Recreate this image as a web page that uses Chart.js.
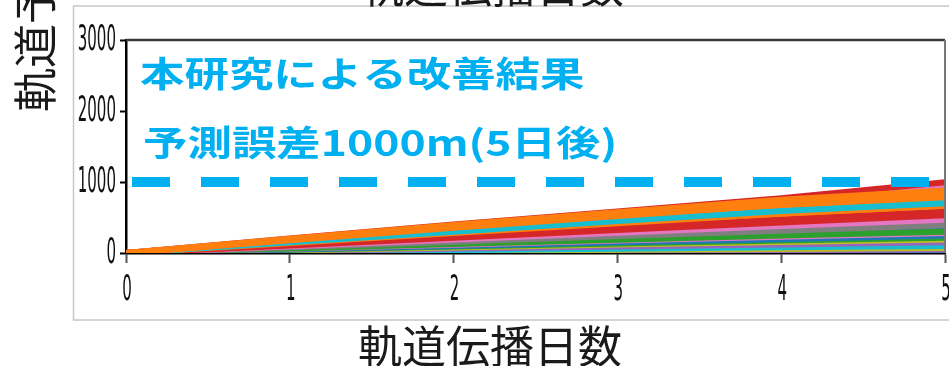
<!DOCTYPE html>
<html>
<head>
<meta charset="utf-8">
<script src="https://cdn.jsdelivr.net/npm/chart.js@4/dist/chart.umd.min.js"></script>
<style>
  body { margin: 0; background: #fff; }
  canvas { display: block; }
</style>
</head>
<body>
<canvas id="errChart" width="949" height="366"></canvas>
<script>
// 伝播日数 (x) と各衛星の軌道予測誤差 [m] (y)
const days = [0, 1, 2, 3, 4, 5];
const xTicks = [0, 1, 2, 3, 4, 5];
const yTicks = [0, 1000, 2000, 3000];
const targetError = 1000;

// 先頭ほど手前に描かれる
const lineValues = [
  [0, 200, 395, 575, 750, 880],
  [0, 190, 375, 550, 715, 845],
  [0, 180, 355, 520, 680, 800],
  [0, 205, 400, 585, 770, 995],
  [0, 195, 385, 565, 745, 935],
  [0, 185, 370, 545, 725, 905],
  [0, 150, 300, 450, 590, 700],
  [0, 170, 335, 490, 640, 760],
  [0, 165, 340, 490, 625, 730],
  [0, 140, 280, 420, 555, 665],
  [0, 115, 235, 355, 470, 580],
  [0, 105, 215, 325, 430, 530],
  [0, 125, 250, 375, 500, 620],
  [0, 95, 190, 285, 380, 470],
  [0, 80, 160, 240, 315, 390],
  [0, 85, 170, 255, 340, 425],
  [0, 65, 125, 185, 245, 300],
  [0, 70, 140, 205, 270, 335],
  [0, 60, 115, 175, 230, 280],
  [0, 50, 100, 150, 195, 245],
  [0, 45, 90, 135, 175, 215],
  [0, 38, 78, 118, 155, 190],
  [0, 30, 60, 90, 120, 150],
  [0, 25, 52, 80, 108, 135],
  [0, 20, 40, 60, 80, 100],
  [0, 14, 30, 45, 58, 70],
  [0, 10, 20, 30, 40, 50],
  [0, 8, 15, 24, 33, 42],
  [0, 5, 10, 15, 20, 25],
  [0, 2, 4, 6, 8, 10]
];

const lineColors = [
  '#ff7f0e', '#ff7f0e', '#ff7f0e', '#d62728', '#e377c2', '#9467bd',
  '#17becf', '#ff7f0e', '#bcbd22', '#ff7f0e', '#d62728', '#d62728',
  '#ff7f0e', '#e377c2', '#7f7f7f', '#8c564b', '#2ca02c', '#1f77b4',
  '#e377c2', '#1f77b4', '#2ca02c', '#bcbd22', '#9467bd', '#17becf',
  '#17becf', '#bcbd22', '#9467bd', '#1f77b4', '#8c564b', '#1f3a5a'
];

const titleLines = ['本研究による改善結果', '予測誤差1000m(5日後)'];
const xTitle = '軌道伝播日数';
const yTitle = '軌道予測誤差 [m]';

const datasets = [{
  data: [{ x: 0, y: targetError }, { x: 5, y: targetError }],
  borderColor: '#00b0f0',
  borderWidth: 10,
  borderDash: [38, 31],
  borderDashOffset: 63,
  borderCapStyle: 'butt',
  pointRadius: 0
}];
lineValues.forEach((vals, i) => {
  datasets.push({
    data: vals.map((v, j) => ({ x: days[j], y: v })),
    borderColor: lineColors[i],
    borderWidth: 6,
    pointRadius: 0,
    tension: 0
  });
});

// 枠・目盛ラベル・注記はキャンバスに直接描く
const decorations = {
  id: 'decorations',
  beforeDraw(chart) {
    const ctx = chart.ctx;
    ctx.save();
    ctx.fillStyle = '#fff';
    ctx.fillRect(0, 0, chart.width, chart.height);
    ctx.strokeStyle = '#c8c8c8';
    ctx.lineWidth = 1.5;
    ctx.strokeRect(73.5, 6, 900, 314);
    ctx.restore();
  },
  afterDraw(chart) {
    const { ctx, chartArea: a, scales: { x, y } } = chart;
    ctx.save();

    // 上と右の枠線
    ctx.lineWidth = 2.5;
    ctx.strokeStyle = '#3a3a3a';
    ctx.beginPath();
    ctx.moveTo(a.left, a.top);
    ctx.lineTo(a.right, a.top);
    ctx.stroke();
    ctx.lineWidth = 2;
    ctx.strokeStyle = '#777';
    ctx.beginPath();
    ctx.moveTo(a.right, a.top);
    ctx.lineTo(a.right, a.bottom);
    ctx.stroke();

    // 目盛ラベル (縦長の細い数字)
    ctx.fillStyle = '#111';
    ctx.font = '35px "DejaVu Sans"';
    ctx.textBaseline = 'middle';
    yTicks.forEach(v => {
      ctx.save();
      ctx.translate(116, y.getPixelForValue(v) + 1);
      ctx.scale(0.43, 1);
      ctx.textAlign = 'right';
      ctx.fillText(String(v), 0, 0);
      ctx.restore();
    });
    xTicks.forEach(v => {
      ctx.save();
      ctx.translate(x.getPixelForValue(v) + 1, 291);
      ctx.scale(0.43, 1);
      ctx.textAlign = 'center';
      ctx.fillText(String(v), 0, 0);
      ctx.restore();
    });

    // 軸タイトル
    ctx.fillStyle = '#1a1a1a';
    ctx.font = '44px "Noto Sans CJK JP"';
    ctx.textAlign = 'center';
    ctx.textBaseline = 'middle';
    ctx.fillText(xTitle, 490, 346);
    ctx.fillText(xTitle, 492, -14);
    ctx.save();
    ctx.translate(35, 112);
    ctx.rotate(-Math.PI / 2);
    ctx.textAlign = 'left';
    ctx.fillText(yTitle, 0, 0);
    ctx.restore();

    // 注記
    ctx.fillStyle = '#00b0f0';
    ctx.font = 'bold 35px "Noto Sans CJK JP"';
    ctx.textAlign = 'left';
    [[titleLines[0], 140, 74], [titleLines[1], 143, 143]].forEach(([t, tx, ty]) => {
      ctx.save();
      ctx.translate(tx, ty);
      ctx.scale(1.27, 1);
      ctx.fillText(t, 0, 0);
      ctx.restore();
    });

    ctx.restore();
  }
};

new Chart(document.getElementById('errChart'), {
  type: 'line',
  data: { datasets },
  options: {
    responsive: false,
    animation: false,
    layout: { padding: { left: 0, top: 40, right: 4, bottom: 0 } },
    plugins: { legend: { display: false }, tooltip: { enabled: false } },
    scales: {
      x: {
        type: 'linear',
        min: 0,
        max: 5,
        ticks: { stepSize: 1, display: false },
        grid: { drawOnChartArea: false, tickLength: 10, tickColor: '#555', tickWidth: 2 },
        border: { color: '#000', width: 2.5 },
        afterFit(scale) { scale.height = 113; }
      },
      y: {
        min: 0,
        max: 3000,
        ticks: { stepSize: 1000, display: false },
        grid: { drawOnChartArea: false, tickLength: 6, tickColor: '#000', tickWidth: 2 },
        border: { color: '#000', width: 2.5 },
        afterFit(scale) { scale.width = 126; }
      }
    }
  },
  plugins: [decorations]
});
</script>
</body>
</html>
